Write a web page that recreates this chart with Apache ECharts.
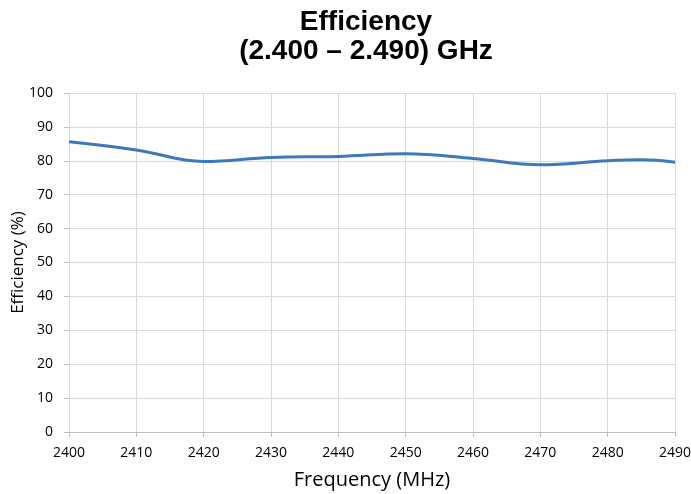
<!DOCTYPE html>
<html>
<head>
    <meta charset="UTF-8">
    <title>Efficiency</title>
    <script src="https://cdn.jsdelivr.net/npm/echarts@6/dist/echarts.min.js"></script>
    <style>
        html, body { margin: 0; padding: 0; background: #fff; }
        #main { width: 691px; height: 494px; }
    </style>
</head>
<body>
    <div id="main"></div>
    <script>
        // frequency (MHz) and efficiency (%)
        var freq = [2400, 2410, 2420, 2430, 2440, 2450, 2460, 2470, 2480, 2485, 2490];
        var eff = [85.6, 83.2, 79.8, 81.0, 81.3, 82.1, 80.7, 78.8, 80.0, 80.3, 79.6];
        var yTicks = [0, 10, 20, 30, 40, 50, 60, 70, 80, 90, 100];

        var pts = [];
        for (var i = 0; i < freq.length; i++) {
            pts.push([freq[i], eff[i]]);
        }

        var myChart = echarts.init(document.getElementById('main'));
        var option = {
            animation: false,
            title: {
                text: 'Efficiency\n(2.400 – 2.490) GHz',
                left: 361,
                textAlign: 'center',
                top: 3,
                textStyle: {
                    fontFamily: 'Liberation Sans, Arial',
                    fontSize: 28,
                    fontWeight: 'bold',
                    color: '#000',
                    lineHeight: 29
                }
            },
            grid: { left: 69, right: 16, top: 93, bottom: 62, outerBoundsMode: 'none' },
            xAxis: {
                type: 'value',
                min: 2400,
                max: 2490,
                interval: 10,
                name: 'Frequency (MHz)',
                nameLocation: 'middle',
                nameGap: 38,
                nameMoveOverlap: false,
                nameTextStyle: { fontFamily: 'Open Sans', fontSize: 20, color: '#000' },
                axisLine: { lineStyle: { color: '#bfbfbf' } },
                axisTick: { show: true, length: 5, lineStyle: { color: '#bfbfbf' } },
                axisLabel: {
                    fontFamily: 'Open Sans', fontSize: 14, color: '#000', margin: 14,
                    formatter: function (v) { return String(v); }
                },
                splitLine: { show: true, lineStyle: { color: '#d9d9d9' } }
            },
            yAxis: {
                type: 'value',
                min: yTicks[0],
                max: yTicks[yTicks.length - 1],
                interval: 10,
                name: 'Efficiency (%)',
                nameLocation: 'middle',
                nameGap: 42,
                nameMoveOverlap: false,
                nameTextStyle: { fontFamily: 'Open Sans', fontSize: 17, color: '#000' },
                axisLine: { show: false },
                axisTick: { show: true, length: 5, lineStyle: { color: '#bfbfbf' } },
                axisLabel: { fontFamily: 'Open Sans', fontSize: 14, color: '#000', margin: 16 },
                splitLine: { show: true, lineStyle: { color: '#d9d9d9' } }
            },
            series: [{
                type: 'line',
                data: pts,
                smooth: 0.4,
                showSymbol: false,
                lineStyle: { color: '#3d78ba', width: 3 }
            }]
        };
        myChart.setOption(option);
        window.addEventListener('resize', function () {
            myChart.resize();
        });
    </script>
</body>
</html>
